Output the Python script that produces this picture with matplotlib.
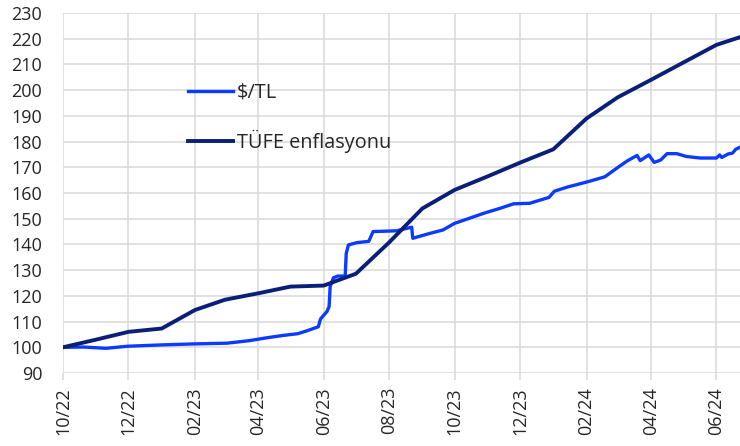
import pandas as pd
import matplotlib
matplotlib.use('Agg')
import matplotlib.pyplot as plt
import matplotlib.dates as mdates

# $/TL (index, Oct 2022 = 100)
usd_dates = ['2022-10-01', '2022-10-20', '2022-11-10', '2022-11-30', '2022-12-30',
             '2023-01-30', '2023-03-03', '2023-03-24', '2023-04-09', '2023-04-24',
             '2023-05-08', '2023-05-17', '2023-05-27', '2023-05-29', '2023-06-04',
             '2023-06-06', '2023-06-07', '2023-06-10', '2023-06-14', '2023-06-21',
             '2023-06-22', '2023-06-24', '2023-07-02', '2023-07-13', '2023-07-17',
             '2023-08-08', '2023-08-22', '2023-08-23', '2023-09-08', '2023-09-20',
             '2023-10-01', '2023-10-15', '2023-10-28', '2023-11-12', '2023-11-25',
             '2023-12-10', '2023-12-28', '2024-01-02', '2024-01-14', '2024-01-26',
             '2024-02-04', '2024-02-18', '2024-03-03', '2024-03-10', '2024-03-19',
             '2024-03-22', '2024-03-30', '2024-04-04', '2024-04-10', '2024-04-16',
             '2024-04-25', '2024-05-04', '2024-05-17', '2024-06-01', '2024-06-04',
             '2024-06-06', '2024-06-12', '2024-06-16', '2024-06-19', '2024-06-23']
usd_values = [100.0, 100.1, 99.6, 100.4, 100.9,
              101.3, 101.6, 102.6, 103.7, 104.6,
              105.3, 106.5, 108.0, 111.0, 113.9,
              115.8, 123.6, 127.0, 127.7, 127.7,
              136.5, 139.8, 140.7, 141.2, 145.0,
              145.3, 146.7, 142.4, 144.3, 145.6,
              148.2, 150.2, 152.1, 154.0, 155.8,
              156.0, 158.3, 160.7, 162.3, 163.6,
              164.6, 166.3, 170.5, 172.5, 174.6,
              172.6, 174.8, 171.9, 172.8, 175.3,
              175.3, 174.2, 173.6, 173.6, 174.8,
              173.8, 175.2, 175.5, 177.0, 177.8]

# TÜFE (CPI index, Oct 2022 = 100)
cpi_dates = ['2022-10-01', '2022-11-01', '2022-12-01', '2023-01-01', '2023-02-01',
             '2023-03-01', '2023-04-01', '2023-05-01', '2023-06-01', '2023-07-01',
             '2023-08-01', '2023-09-01', '2023-10-01', '2023-11-01', '2023-12-01',
             '2024-01-01', '2024-02-01', '2024-03-01', '2024-04-01', '2024-05-01',
             '2024-06-01', '2024-06-23']
cpi_values = [100.0, 103.0, 106.0, 107.3, 114.5,
              118.5, 121.0, 123.6, 124.0, 128.6,
              140.8, 154.0, 161.2, 166.5, 171.8,
              177.0, 189.0, 197.2, 204.0, 210.7,
              217.6, 220.6]

y_ticks = list(range(90, 231, 10))

plt.rcParams['font.family'] = ['Open Sans', 'DejaVu Sans']
text_color = '#262626'
grid_color = '#d9d9d9'

fig = plt.figure(figsize=(7.4, 4.46), dpi=100)
ax = fig.add_axes([63 / 740, 1 - 373 / 446, 677 / 740, 360 / 446])

ax.plot(pd.to_datetime(usd_dates), usd_values, color='#0b3bff', lw=2.4,
        label='$/TL', solid_joinstyle='round', zorder=3)
ax.plot(pd.to_datetime(cpi_dates), cpi_values, color='#0a1f77', lw=2.8,
        label='TÜFE enflasyonu', solid_joinstyle='round', zorder=3)

# axes and ticks
ax.set_ylim(90, 230)
ax.set_yticks(y_ticks)
ax.set_xlim(pd.Timestamp('2022-10-01'), pd.Timestamp('2024-06-23'))
ax.set_xticks(pd.date_range('2022-10-01', '2024-06-01', freq='2MS'))
ax.xaxis.set_major_formatter(mdates.DateFormatter('%m/%y'))
plt.setp(ax.get_xticklabels(), rotation=90)

ax.tick_params(axis='y', length=0, pad=15, labelsize=13, labelcolor=text_color)
ax.tick_params(axis='x', length=5, width=1.1, color=grid_color, pad=5,
               labelsize=13, labelcolor=text_color)

for s in ax.spines.values():
    s.set_visible(False)
ax.grid(True, color=grid_color, lw=1.1)
ax.set_axisbelow(True)

# legend without frame
leg = ax.legend(loc='center left', bbox_to_anchor=((188 - 63) / 677, (373 - 118) / 360),
                frameon=False, fontsize=14.3, handlelength=2.27, handletextpad=0.2,
                labelspacing=1.36, borderpad=0, borderaxespad=0)
for t in leg.get_texts():
    t.set_color(text_color)

fig.savefig('out.png', dpi=100)
